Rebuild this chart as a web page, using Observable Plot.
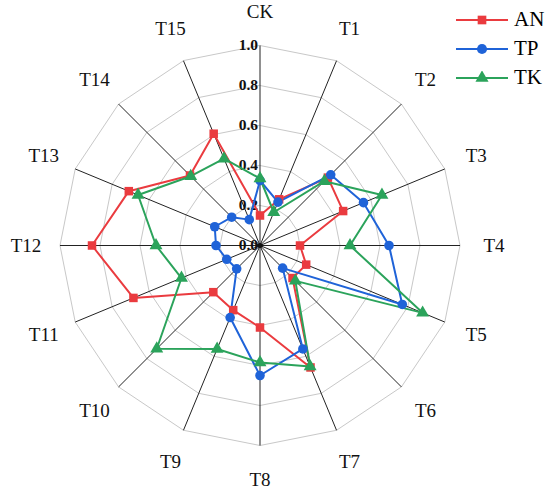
<!DOCTYPE html>
<html>
<head>
<meta charset="utf-8">
<script src="https://cdn.jsdelivr.net/npm/d3@7"></script>
<script src="https://cdn.jsdelivr.net/npm/@observablehq/plot@0.6"></script>
<style>
  body { margin: 0; background: #fff; }
  #wrap { position: relative; width: 550px; height: 492px; }
  #legend { position: absolute; top: 5px; left: 456px; font-family: "Liberation Serif", "Times New Roman", serif; font-size: 21px; }
  #legend div { display: flex; align-items: center; height: 29px; }
  #legend svg { margin-right: 6px; }
</style>
</head>
<body>
<div id="wrap">
  <div id="plot"></div>
  <div id="legend"></div>
</div>
<script>
// axes (clockwise from top)
const axes = ["CK", "T1", "T2", "T3", "T4", "T5", "T6", "T7", "T8", "T9", "T10", "T11", "T12", "T13", "T14", "T15"];
const ticks = [0.2, 0.4, 0.6, 0.8, 1.0];
const tickLabels = ["0.0", "0.2", "0.4", "0.6", "0.8", "1.0"];

const seriesNames = ["AN", "TP", "TK"];
const AN = [0.15, 0.25, 0.48, 0.45, 0.20, 0.25, 0.23, 0.66, 0.41, 0.35, 0.33, 0.685, 0.84, 0.71, 0.495, 0.605];
const TP = [0.325, 0.235, 0.50, 0.56, 0.645, 0.77, 0.16, 0.56, 0.65, 0.39, 0.165, 0.18, 0.22, 0.245, 0.20, 0.14];
const TK = [0.335, 0.18, 0.455, 0.66, 0.45, 0.88, 0.25, 0.655, 0.585, 0.56, 0.73, 0.425, 0.52, 0.66, 0.49, 0.47];

const colors = ["#ea3b3f", "#1f63d8", "#2ba35b"];
const symbols = ["square", "circle", "triangle"];

const n = axes.length;
const ang = i => i * 2 * Math.PI / n;
const px = (i, r) => r * Math.sin(ang(i));
const py = (i, r) => r * Math.cos(ang(i));

// tables
const grid = ticks.flatMap(t => axes.map((a, i) => ({ring: t, x: px(i, t), y: py(i, t)})));
const spokes = axes.map((a, i) => ({x2: px(i, 1), y2: py(i, 1)}));
const labels = axes.map((a, i) => ({name: a, x: px(i, 1.17), y: py(i, 1.17)}));
const tickText = tickLabels.map(t => ({label: t, y: +t}));
const allSeries = [AN, TP, TK];
const pts = allSeries.flatMap((vals, s) => vals.map((v, i) => ({series: seriesNames[s], x: px(i, v), y: py(i, v)})));

const serif = "'Liberation Serif', 'Times New Roman', serif";

const plot = Plot.plot({
  width: 550,
  height: 492,
  margin: 0,
  x: {domain: [-1, 1], range: [59.5, 459.5], axis: null},
  y: {domain: [-1, 1], range: [445, 45], axis: null},
  color: {domain: seriesNames, range: colors},
  symbol: {domain: seriesNames, range: symbols},
  style: {fontFamily: serif, background: "#fff"},
  marks: [
    Plot.line(grid, {x: "x", y: "y", z: "ring", curve: "linear-closed", stroke: "#c8c8c8", strokeWidth: 1}),
    Plot.link(spokes, {x1: 0, y1: 0, x2: "x2", y2: "y2", stroke: "#222", strokeWidth: 1}),
    Plot.text(labels, {x: "x", y: "y", text: "name", fontSize: 19, fill: "#111"}),
    Plot.text(tickText, {x: 0, y: "y", text: "label", textAnchor: "end", dx: -2, fontSize: 15.5, fontWeight: "bold", fill: "#111"}),
    Plot.line(pts, {x: "x", y: "y", z: "series", stroke: "series", curve: "linear-closed", strokeWidth: 2}),
    Plot.dot(pts, {x: "x", y: "y", fill: "series", symbol: "series", r: 4.8, stroke: null}),
    Plot.dot([0], {x: 0, y: 0, r: 2.5, fill: "#111"})
  ]
});
document.getElementById("plot").appendChild(plot);

// legend
const leg = document.getElementById("legend");
seriesNames.forEach((name, s) => {
  const row = document.createElement("div");
  const sym = d3.symbol(s === 0 ? d3.symbolSquare : s === 1 ? d3.symbolCircle : d3.symbolTriangle, s === 1 ? 80 : 75)();
  row.innerHTML = `<svg width="52" height="14"><line x1="0" x2="52" y1="7" y2="7" stroke="${colors[s]}" stroke-width="2"/><path d="${sym}" transform="translate(26,7)" fill="${colors[s]}"/></svg><span>${name}</span>`;
  leg.appendChild(row);
});
</script>
</body>
</html>
